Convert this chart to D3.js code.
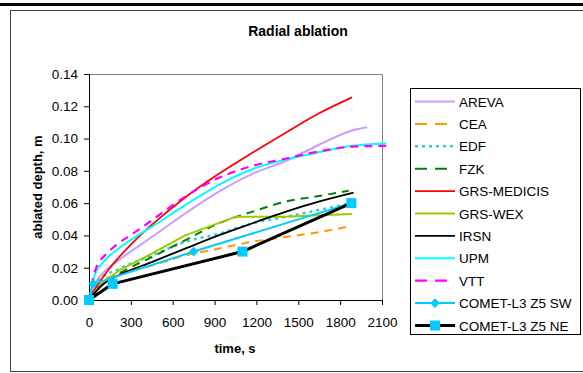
<!DOCTYPE html>
<html>
<head>
<meta charset="utf-8">
<script src="https://cdn.jsdelivr.net/npm/d3@7"></script>
<style>
body { margin: 0; background: #fff; }
text { font-family: "Liberation Sans", Arial, sans-serif; }
</style>
</head>
<body>
<script>
// values: [time s, ablated depth m]
var areva = [[0,0],[43,0.010],[115,0.018],[210,0.0245],[450,0.039],[689,0.0536],[928,0.067],[1167,0.078],[1407,0.086],[1646,0.096],[1885,0.105],[1993,0.107]];
var cea = [[0,0],[67,0.010],[210,0.0162],[450,0.0214],[689,0.0276],[928,0.0318],[1167,0.036],[1407,0.039],[1646,0.042],[1873,0.0457]];
var edf = [[0,0],[67,0.012],[210,0.019],[450,0.0276],[689,0.036],[928,0.041],[1167,0.0474],[1407,0.0515],[1646,0.0557],[1861,0.0598]];
var fzk = [[0,0],[91,0.010],[210,0.0162],[450,0.0266],[689,0.037],[928,0.0474],[1167,0.0546],[1407,0.0609],[1646,0.0644],[1861,0.0677]];
var medicis = [[0,0],[31,0.005],[91,0.013],[151,0.020],[210,0.026],[330,0.037],[450,0.0465],[689,0.0635],[928,0.078],[1167,0.091],[1407,0.1035],[1646,0.1155],[1885,0.1255]];
var wex = [[0,0],[91,0.010],[210,0.018],[450,0.0287],[689,0.040],[1048,0.0515],[1407,0.0515],[1646,0.0525],[1885,0.0532]];
var irsn = [[0,0],[91,0.009],[210,0.0152],[450,0.0235],[689,0.0318],[928,0.040],[1167,0.0474],[1407,0.0546],[1646,0.0609],[1897,0.0665]];
var upm = [[0,0],[20,0.008],[43,0.016],[91,0.0224],[210,0.0318],[330,0.039],[450,0.0453],[689,0.0588],[928,0.0712],[1167,0.081],[1407,0.087],[1646,0.0915],[1885,0.0955],[2130,0.097]];
var vtt = [[0,0],[20,0.010],[43,0.018],[139,0.0297],[210,0.035],[330,0.042],[450,0.0494],[689,0.064],[928,0.0755],[1167,0.083],[1407,0.0875],[1646,0.092],[1885,0.095],[2130,0.0955]];
var cometSW = [[0,0],[30,0.010],[750,0.030],[1880,0.060]];
var cometNE = [[0,0],[170,0.010],[1100,0.030],[1880,0.060]];

var xTicks = [0,300,600,900,1200,1500,1800,2100];
var yTicks = [0,0.02,0.04,0.06,0.08,0.10,0.12,0.14];

var series = [
  {name:"AREVA", data:areva, color:"#cc99ff", w:2, dash:null, curve:true},
  {name:"CEA", data:cea, color:"#ff9900", w:2, dash:"8,6", curve:true},
  {name:"EDF", data:edf, color:"#33cccc", w:2.5, dash:"3,4", curve:true},
  {name:"FZK", data:fzk, color:"#008000", w:2, dash:"8,6", curve:true},
  {name:"GRS-MEDICIS", data:medicis, color:"#ff0000", w:1.8, dash:null, curve:true},
  {name:"GRS-WEX", data:wex, color:"#99cc00", w:2, dash:null, curve:false},
  {name:"IRSN", data:irsn, color:"#000000", w:1.8, dash:null, curve:true},
  {name:"UPM", data:upm, color:"#00ffff", w:2, dash:null, curve:true},
  {name:"VTT", data:vtt, color:"#ff00ff", w:2.2, dash:"8,6", curve:true},
  {name:"COMET-L3 Z5 SW", data:cometSW, color:"#00ccff", w:2, dash:null, curve:false, marker:"diamond"},
  {name:"COMET-L3 Z5 NE", data:cometNE, color:"#000000", w:3, dash:null, curve:false, marker:"square"}
];

var svg = d3.select("body").append("svg")
  .attr("width", 583)
  .attr("height", 373);

// top rule and chart frame
svg.append("rect").attr("x",0).attr("y",3).attr("width",583).attr("height",3).attr("fill","#000");
svg.append("rect").attr("x",10.5).attr("y",10.5).attr("width",600).attr("height",361)
  .attr("fill","none").attr("stroke","#404040").attr("stroke-width",1);

var margin = {left:89, top:74};
var width = 293, height = 226;

var g = svg.append("g").attr("transform","translate(" + margin.left + "," + margin.top + ")");

var x = d3.scaleLinear().domain([0,2100]).range([0,width]);
var y = d3.scaleLinear().domain([0,0.14]).range([height,0]);

// plot area border (top/right grey)
g.append("path").attr("d","M0,0.5H" + (width+0.5) + "V" + height)
  .attr("fill","none").attr("stroke","#808080").attr("stroke-width",1);

var xAxis = g.append("g").attr("transform","translate(0," + height + ")")
  .call(d3.axisBottom(x).tickValues(xTicks).tickSize(5).tickPadding(12).tickFormat(d3.format("d")));
var yAxis = g.append("g")
  .call(d3.axisLeft(y).tickValues(yTicks).tickSize(5).tickPadding(6).tickFormat(d3.format(".2f")));
[xAxis, yAxis].forEach(function(a){
  a.select(".domain").attr("stroke","#000");
  a.selectAll(".tick line").attr("stroke","#000");
  a.selectAll("text").attr("font-family","Liberation Sans, Arial, sans-serif")
    .attr("font-size","13.5px").attr("fill","#000");
});

var lineCurve = d3.line().x(function(d){return x(d[0]);}).y(function(d){return y(d[1]);}).curve(d3.curveMonotoneX);
var lineStraight = d3.line().x(function(d){return x(d[0]);}).y(function(d){return y(d[1]);});

series.forEach(function(s){
  g.append("path")
    .attr("d", s.curve ? lineCurve(s.data) : lineStraight(s.data))
    .attr("fill","none")
    .attr("stroke", s.color)
    .attr("stroke-width", s.w)
    .attr("stroke-dasharray", s.dash)
    .attr("stroke-linejoin","round");
});

function drawMarker(sel, type, cx, cy) {
  if (type === "diamond") {
    sel.append("path").attr("d", d3.symbol().type(d3.symbolDiamond2).size(60)())
      .attr("transform","translate(" + cx + "," + cy + ")")
      .attr("fill","#00ccff");
  } else {
    sel.append("rect").attr("x", cx-5).attr("y", cy-5).attr("width",10).attr("height",10)
      .attr("fill","#00ccff");
  }
}

series.filter(function(s){return s.marker;}).forEach(function(s){
  s.data.forEach(function(d){ drawMarker(g, s.marker, x(d[0]), y(d[1])); });
});

// titles
svg.append("text").attr("x",298).attr("y",36).attr("text-anchor","middle")
  .attr("font-size","14px").attr("font-weight","bold").text("Radial ablation");
svg.append("text").attr("x",235).attr("y",353).attr("text-anchor","middle")
  .attr("font-size","13px").attr("font-weight","bold").text("time, s");
svg.append("text").attr("transform","translate(42,187) rotate(-90)").attr("text-anchor","middle")
  .attr("font-size","13px").attr("font-weight","bold").text("ablated depth, m");

// legend
var leg = svg.append("g");
leg.append("rect").attr("x",410.5).attr("y",88.5).attr("width",170).attr("height",246)
  .attr("fill","#fff").attr("stroke","#000").attr("stroke-width",1);
series.forEach(function(s, i){
  var ly = 101.5 + i*22.4;
  leg.append("line").attr("x1",415).attr("x2",455).attr("y1",ly).attr("y2",ly)
    .attr("stroke", s.color).attr("stroke-width", s.w)
    .attr("stroke-dasharray", s.dash ? (s.name==="EDF" ? "3,4" : "12,8") : null);
  if (s.marker) drawMarker(leg, s.marker, 435, ly);
  leg.append("text").attr("x",459).attr("y",ly+5).attr("font-size","13.5px").text(s.name);
});
</script>
</body>
</html>
